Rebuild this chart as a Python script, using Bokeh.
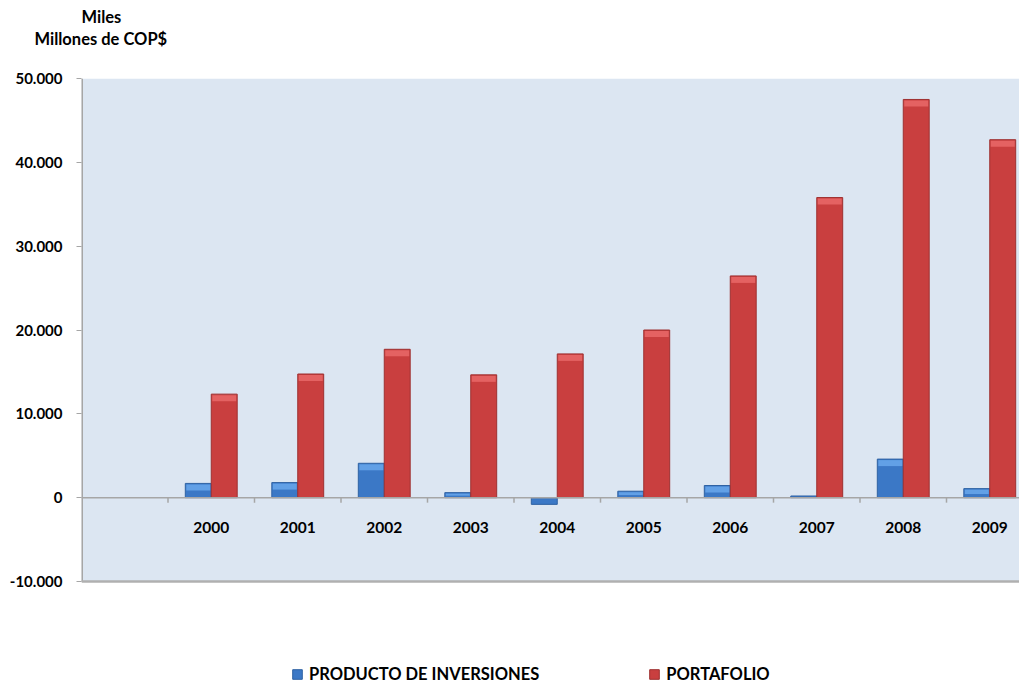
from bokeh.plotting import figure
from bokeh.models import (FixedTicker, CustomJSTickFormatter, Span, Title, Legend, LegendItem,
                          ColumnDataSource, BoxAnnotation)
from bokeh.core.properties import value
from bokeh.embed import file_html
from bokeh.resources import INLINE

years = ["2000", "2001", "2002", "2003", "2004", "2005", "2006", "2007", "2008", "2009"]
producto = [1700, 1800, 4100, 600, -800, 770, 1450, 200, 4600, 1080]
portafolio = [12350, 14750, 17700, 14650, 17150, 20000, 26450, 35800, 47500, 42700]
y_ticks = [-10000, 0, 10000, 20000, 30000, 40000, 50000]

FONT = "Lato"
W, H = 1019, 684
ML, MT = 81, 78
area_h = 503                       # height of the shaded plotting area in px
frame_w = W - ML
frame_h = H - MT
slot_px = 86.5
x_start = -1.5
x_end = x_start + frame_w / slot_px
y_lo, y_hi = -10000, 50000
upp = (y_hi - y_lo) / area_h       # data units per pixel
y_start = y_hi - frame_h * upp

idx = list(range(len(years)))
bev = 7 * upp
src = ColumnDataSource(dict(
    x=idx,
    xb=[i - 0.15 for i in idx],
    xr=[i + 0.15 for i in idx],
    prod=producto,
    port=portafolio,
    prod_t=[v - upp if v > 0 else v for v in producto],
    port_t=[v - upp for v in portafolio],
    prod_hl=[v - min(bev, v * 0.6) if v > 0 else v for v in producto],
    port_hl=[v - min(bev, v * 0.6) for v in portafolio],
    year=years,
))

p = figure(width=W, height=H, output_backend="svg", toolbar_location=None,
           x_range=(x_start, x_end), y_range=(y_start, y_hi),
           x_axis_location=None,
           min_border_left=ML, min_border_top=MT, min_border_bottom=0, min_border_right=0)
p.background_fill_color = "white"
p.border_fill_color = "white"
p.outline_line_color = None

p.add_layout(BoxAnnotation(left=x_start, right=x_end, bottom=y_lo, top=y_hi,
                           fill_color="#dce6f2", fill_alpha=1, line_color=None, level="underlay"))

p.xgrid.visible = False
p.ygrid.ticker = FixedTicker(ticks=y_ticks)
p.ygrid.grid_line_color = "#a6a6a6"
p.ygrid.grid_line_width = 1

ax = p.yaxis[0]
ax.ticker = FixedTicker(ticks=y_ticks)
ax.formatter = CustomJSTickFormatter(code="""
const s = Math.abs(tick).toFixed(0).replace(/\\B(?=(\\d{3})+(?!\\d))/g, '.');
return (tick < 0 ? '-' : '') + s;
""")
ax.axis_line_color = None
ax.major_tick_line_color = "#a6a6a6"
ax.major_tick_out = 5
ax.major_tick_in = 0
ax.minor_tick_line_color = None
ax.major_label_standoff = 14
ax.major_label_text_font = FONT
ax.major_label_text_font_style = "bold"
ax.major_label_text_font_size = "15px"
ax.major_label_text_color = "black"

# left border of the shaded area and bottom border
p.segment(x0=[x_start], x1=[x_start], y0=[y_lo], y1=[y_hi], line_color="#a6a6a6", line_width=3)
p.add_layout(Span(location=y_lo, dimension="width", line_color="#b0b0b0", line_width=2.5))

rb = p.vbar(x="xb", top="prod", bottom=0, width=0.3, source=src,
            fill_color="#3b78c6", line_color="#2f62a3", line_width=1)
rr = p.vbar(x="xr", top="port", bottom=0, width=0.3, source=src,
            fill_color="#c93f3f", line_color="#9e3030", line_width=1)
# bevel highlight on the bar tops
hw = 0.3 - 2 / slot_px
p.vbar(x="xb", top="prod_t", bottom="prod_hl", width=hw, source=src,
       fill_color="#62a0e6", line_color=None)
p.vbar(x="xr", top="port_t", bottom="port_hl", width=hw, source=src,
       fill_color="#e46262", line_color=None)

# category axis at zero
p.add_layout(Span(location=0, dimension="width", line_color="#a6a6a6", line_width=1.5))
bx = [i - 0.5 for i in idx]
p.segment(x0=bx, x1=bx, y0=[0] * len(bx), y1=[-5 * upp] * len(bx),
          line_color="#a6a6a6", line_width=1.5)
p.text(x="x", y=0, text="year", source=src, y_offset=30,
       text_align="center", text_baseline="middle",
       text_font=value(FONT), text_font_style="bold", text_font_size="15.5px",
       text_color="black")

# unit title (first added sits closest to the frame)
p.add_layout(Title(text=" ", standoff=14, text_font_size="12px"), "above")
p.add_layout(Title(text="Millones de COP$", align="left", offset=-47, standoff=0,
                   text_font=FONT, text_font_style="bold", text_font_size="16.5px",
                   text_color="black"), "above")
p.add_layout(Title(text="Miles", align="left", offset=0, standoff=0,
                   text_font=FONT, text_font_style="bold", text_font_size="16.5px",
                   text_color="black"), "above")

legend = Legend(items=[LegendItem(label="PRODUCTO DE INVERSIONES", renderers=[rb]),
                       LegendItem(label="PORTAFOLIO", renderers=[rr])],
                orientation="horizontal", location=(210, 0),
                spacing=109, glyph_width=12, glyph_height=12, label_standoff=6,
                label_height=20, padding=0, margin=0,
                label_text_font=FONT, label_text_font_style="bold",
                label_text_font_size="16.5px", label_text_color="black",
                background_fill_alpha=0, border_line_color=None)
p.add_layout(legend, "center")

open("out.html", "w").write(file_html(p, INLINE))
